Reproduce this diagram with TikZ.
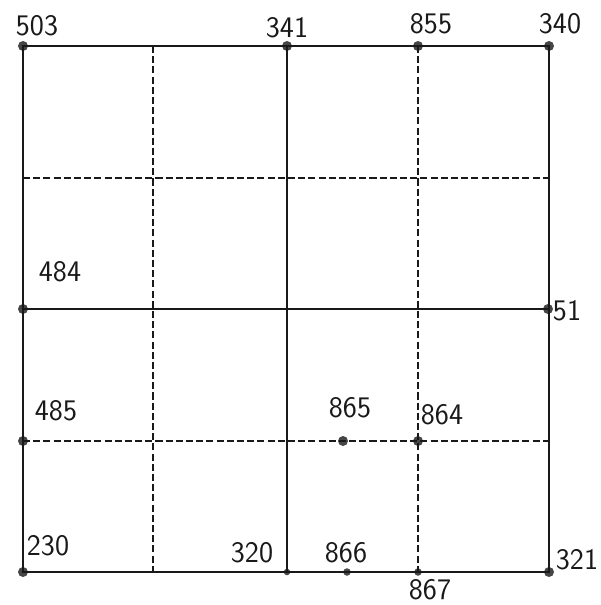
\documentclass[tikz,border=0pt]{standalone}
\usepackage{tikz}
\usetikzlibrary{positioning}
\definecolor{dotColor}{RGB}{70,70,70}
\definecolor{lineColor}{RGB}{25,25,25}
\newcommand{\handfont}{\sffamily\fontsize{17}{19}\selectfont}

\begin{document}
\begin{tikzpicture}[
        x=0.02cm, y=-0.02cm,
        pt/.style={circle, fill=dotColor, inner sep=0pt, minimum size=0.2cm},
        lbl/.style={font=\handfont, inner sep=1pt, text=lineColor},
        wall/.style={line width=1.6pt, lineColor, line cap=round},
        mid/.style={line width=1.1pt, lineColor},
        gridline/.style={line width=0.8pt, lineColor, dash pattern=on 4pt off 1.8pt}
      ]
      \useasboundingbox (0,0) rectangle (600,605);

      % survey points
      \node[pt] (p503) at (23,46) {};
      \node[pt] (p341) at (287,46) {};
      \node[pt] (p855) at (418,46) {};
      \node[pt] (p340) at (549,46) {};
      \node[pt] (p484) at (23,309) {};
      \node[pt] (p51)  at (548,309) {};
      \node[pt] (p485) at (23,441) {};
      \node[pt] (p865) at (343,441) {};
      \node[pt] (p864) at (418,441) {};
      \node[pt] (p230) at (23,572) {};
      \node[pt, minimum size=0.13cm] (p320) at (287,572) {};
      \node[pt, minimum size=0.15cm] (p866) at (347,572) {};
      \node[pt, minimum size=0.15cm] (p867) at (418,572) {};
      \node[pt] (p321) at (549,572) {};

      % free ends of the grid lines
      \coordinate (a1) at (153,46);
      \coordinate (a2) at (153,572);
      \coordinate (b1) at (23,178);
      \coordinate (b2) at (549,178);
      \coordinate (c2) at (549,441);

      % labels
      \node[lbl] (l503) at (37,26) {503};
      \node[lbl] (l341) at (287,28) {341};
      \node[lbl] (l855) at (431,24) {855};
      \node[lbl] (l340) at (560,24) {340};
      \node[lbl] (l484) at (60,272) {484};
      \node[lbl] (l51)  at (567,311) {51};
      \node[lbl] (l485) at (56,411) {485};
      \node[lbl] (l865) at (350,408) {865};
      \node[lbl] (l864) at (442,415) {864};
      \node[lbl] (l230) at (48,546) {230};
      \node[lbl] (l320) at (252,553) {320};
      \node[lbl] (l866) at (346,553) {866};
      \node[lbl] (l867) at (430,590) {867};
      \node[lbl] (l321) at (577,560) {321};

      % dashed grid
      \draw[gridline] (a1) -- (a2);
      \draw[gridline] (p855.center) -- (p864.center) -- (p867.center);
      \draw[gridline] (b1) -- (b2);
      \draw[gridline] (p485.center) -- (p865.center) -- (p864.center) -- (c2);

      % solid lines
      \draw[mid] (p341.center) -- (p320.center);
      \draw[mid] (p484.center) -- (p51.center);
      \draw[wall] (p503.center) -- (p340.center) -- (p321.center) -- (p230.center) -- cycle;
    \end{tikzpicture}
\end{document}
